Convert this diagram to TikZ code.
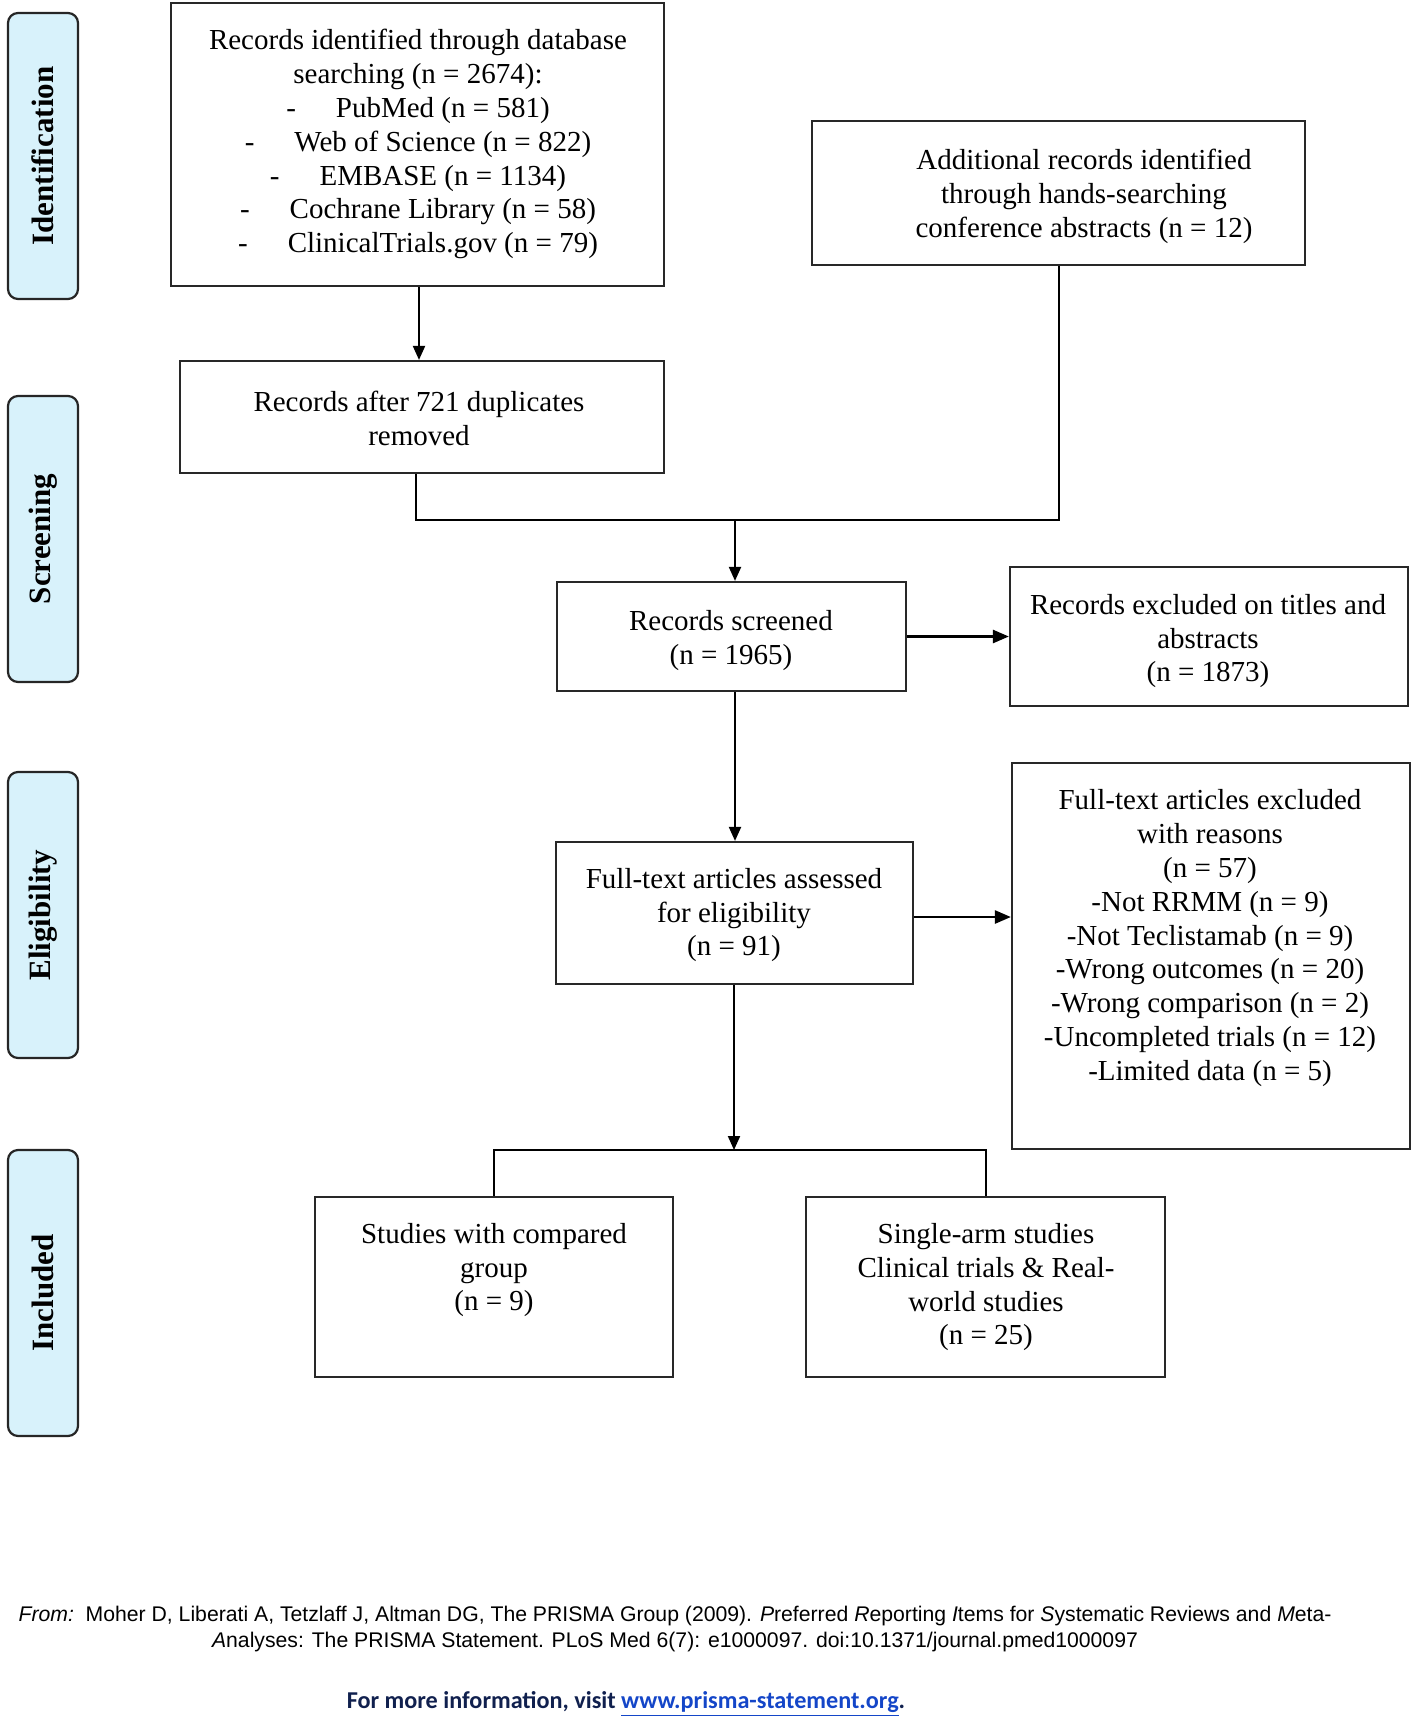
\documentclass[tikz,border=0pt]{standalone}
\usepackage{fontspec}
\setmainfont{Liberation Serif}
\newfontfamily\footsans{Liberation Sans}
\newfontfamily\footcal{Carlito}
\usetikzlibrary{fit,arrows.meta}
\definecolor{sideblue}{RGB}{216,242,251}
\definecolor{boxline}{RGB}{40,40,40}
\definecolor{navytxt}{RGB}{16,32,78}
\definecolor{linkblue}{RGB}{20,70,200}
\begin{document}
\begin{tikzpicture}[x=0.5pt,y=-0.5pt,
  box/.style={draw=boxline, line width=1.1pt, inner sep=0pt},
  side/.style={draw=black!85, line width=1.1pt, fill=sideblue, rounded corners=5pt, inner sep=0pt},
  sidetxt/.style={rotate=90, inner sep=0pt, font=\fontsize{15.5}{18}\selectfont\bfseries},
  txt/.style={align=center, inner sep=0pt, yshift=-1.6pt, font=\fontsize{14.5}{16.9}\selectfont},
  conn/.style={draw=black, line width=1pt},
  arr/.style={conn, -{Triangle[length=7pt,width=6pt]}},
  harr/.style={draw=black, line width=1.3pt, -{Triangle[length=8pt,width=6.5pt]}},
  foot/.style={inner sep=0pt, font=\footsans\fontsize{10.6}{12}\selectfont}
]
\useasboundingbox (0,0) rectangle (1417,1726);

% side labels
\node[side, fit={(8,13) (78,299)}] (sIdent) {};
\node[sidetxt] (sIdentT) at (sIdent.center) {Identification};
\node[side, fit={(8,396) (78,682)}] (sScreen) {};
\node[sidetxt] (sScreenT) at (sScreen.center) {Screening};
\node[side, fit={(8,772) (78,1058)}] (sElig) {};
\node[sidetxt] (sEligT) at (sElig.center) {Eligibility};
\node[side, fit={(8,1150) (78,1436)}] (sIncl) {};
\node[sidetxt] (sInclT) at (sIncl.center) {Included};

% boxes
\node[box, fit={(171,3) (664,286)}] (db) {};
\node[txt] (dbT) at (418,141) {Records identified through database\\searching (n = 2674):\\
-\hspace{20pt}PubMed (n = 581)\\
-\hspace{20pt}Web of Science (n = 822)\\
-\hspace{20pt}EMBASE (n = 1134)\\
-\hspace{20pt}Cochrane Library (n = 58)\\
-\hspace{20pt}ClinicalTrials.gov (n = 79)};

\node[box, fit={(812,121) (1305,265)}] (add) {};
\node[txt] (addT) at (1084,193) {Additional records identified\\through hands-searching\\conference abstracts (n = 12)};

\node[box, fit={(180,361) (664,473)}] (dup) {};
\node[txt] (dupT) at (419,415) {Records after 721 duplicates\\removed};

\node[box, fit={(557,582) (906,691)}] (scr) {};
\node[txt] (scrT) at (731,637) {Records screened\\(n = 1965)};

\node[box, fit={(1010,567) (1408,706)}] (ex1) {};
\node[txt] (ex1T) at (1208,638) {Records excluded on titles and\\abstracts\\(n = 1873)};

\node[box, fit={(556,842) (913,984)}] (ft) {};
\node[txt] (ftT) at (734,912) {Full-text articles assessed\\for eligibility\\(n = 91)};

\node[box, fit={(1012,763) (1410,1149)}] (ex2) {};
\node[txt] (ex2T) at (1210,935) {Full-text articles excluded\\with reasons\\(n = 57)\\-Not RRMM (n = 9)\\-Not Teclistamab (n = 9)\\-Wrong outcomes (n = 20)\\-Wrong comparison (n = 2)\\-Uncompleted trials (n = 12)\\-Limited data (n = 5)};

\node[box, fit={(315,1197) (673,1377)}] (cmp) {};
\node[txt] (cmpT) at (494,1267) {Studies with compared\\group\\(n = 9)};

\node[box, fit={(806,1197) (1165,1377)}] (sgl) {};
\node[txt] (sglT) at (986,1284) {Single-arm studies\\Clinical trials \& Real-\\world studies\\(n = 25)};

% connectors
\coordinate (jA) at (416,520);
\coordinate (jB) at (735,520);
\coordinate (jC) at (734,1150);
\draw[arr] (db.south -| 419,0) -- (dup.north -| 419,0);
\draw[conn] (dup.south -| jA) -- (jA) -| (add.south);
\draw[arr] (jB) -- (jB |- scr.north);
\draw[harr] (scr.east) -- (scr.east -| ex1.west);
\draw[arr] (scr.south -| jB) -- (jB |- ft.north);
\draw[harr] (ft.east |- 0,917) -- (ex2.west |- 0,917);
\draw[arr] (ft.south -| jC) -- (jC);
\draw[conn] (cmp.north) -- (cmp.north |- jC) -- (sgl.north |- jC) -- (sgl.north);

% footer
\node[foot] (f1) at (675,1616) {\textit{From:}\ \ Moher D, Liberati A, Tetzlaff J, Altman DG, The PRISMA Group (2009). \textit{P}referred \textit{R}eporting \textit{I}tems for \textit{S}ystematic Reviews and \textit{M}eta-};
\node[foot] (f2) at (675,1642) {\textit{A}nalyses: The PRISMA Statement. PLoS Med 6(7): e1000097. doi:10.1371/journal.pmed1000097};
\node[inner sep=0pt, font=\footcal\fontsize{12.1}{14}\selectfont\bfseries] (f3) at (626,1704) {\textcolor{navytxt}{For more information, visit }\textcolor{linkblue}{\underline{www.prisma-statement.org}}\textcolor{navytxt}{.}};
\end{tikzpicture}
\end{document}
